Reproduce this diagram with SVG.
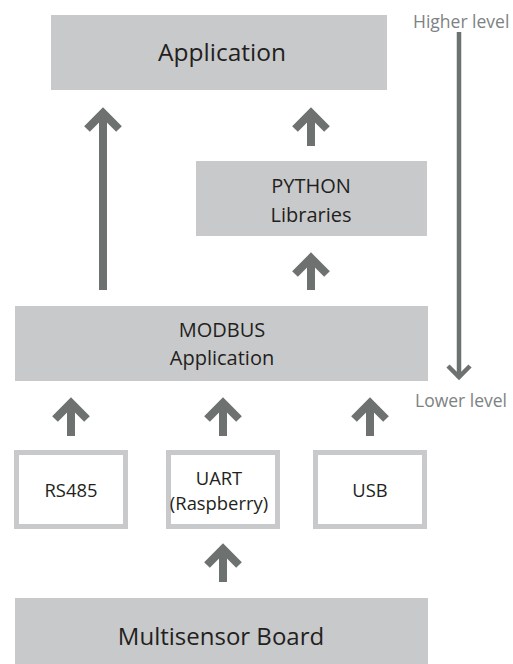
<svg xmlns="http://www.w3.org/2000/svg" width="513" height="664" viewBox="0 0 513 664">
<defs>
<style>
.box{fill:#c8c9cb}
.sbox{fill:#fff;stroke:#c8c9cb;stroke-width:5}
.t{font-family:"Open Sans","Noto Sans",sans-serif;fill:#231f20;text-anchor:middle}
.lvl{font-family:"Open Sans","Noto Sans",sans-serif;fill:#7d8282;font-size:17.5px}
.arr{fill:none;stroke:#6d7271;stroke-width:8;stroke-linejoin:miter}
.lvlline{fill:none;stroke:#6d7271;stroke-width:4.5}
</style>
</defs>
<rect width="513" height="664" fill="#fff"/>
<g id="application">
<rect class="box" x="51" y="15" width="336" height="75"/>
<text class="t" x="222" y="61" font-size="24.5">Application</text>
</g>
<g id="python">
<rect class="box" x="196" y="161" width="231" height="75"/>
<text class="t" x="311" y="193" font-size="20">PYTHON</text>
<text class="t" x="311" y="222" font-size="20">Libraries</text>
</g>
<g id="modbus">
<rect class="box" x="15" y="306" width="413" height="75"/>
<text class="t" x="222" y="337" font-size="20">MODBUS</text>
<text class="t" x="222" y="365" font-size="20">Application</text>
</g>
<g id="rs485">
<rect class="sbox" x="16.5" y="452.5" width="109" height="74"/>
<text class="t" x="71" y="497" font-size="18.4">RS485</text>
</g>
<g id="uart">
<rect class="sbox" x="168.5" y="452.5" width="109" height="74"/>
<text class="t" x="219" y="485" font-size="18.4">UART</text>
<text class="t" x="219" y="510" font-size="18.4">(Raspberry)</text>
</g>
<g id="usb">
<rect class="sbox" x="315.5" y="452.5" width="109" height="74"/>
<text class="t" x="370" y="497" font-size="18.4">USB</text>
</g>
<g id="board">
<rect class="box" x="15" y="598" width="413" height="66"/>
<text class="t" x="221" y="645" font-size="24">Multisensor Board</text>
</g>
<g id="levels">
<text class="lvl" x="413" y="28">Higher level</text>
<text class="lvl" x="415" y="407">Lower level</text>
<line class="lvlline" x1="459" y1="32" x2="459" y2="378"/>
<polyline class="lvlline" points="448,366 459,377 470,366"/>
</g>
<g id="connectors">
<line class="arr" x1="103" y1="114" x2="103" y2="290"/>
<polyline class="arr" points="87,129 103,113 119,129"/>
<line class="arr" x1="311" y1="114" x2="311" y2="146"/>
<polyline class="arr" points="295,129 311,113 327,129"/>
<line class="arr" x1="311" y1="259" x2="311" y2="290"/>
<polyline class="arr" points="295,274 311,258 327,274"/>
<line class="arr" x1="71" y1="404" x2="71" y2="436"/>
<polyline class="arr" points="55,419 71,403 87,419"/>
<line class="arr" x1="223" y1="404" x2="223" y2="436"/>
<polyline class="arr" points="207,419 223,403 239,419"/>
<line class="arr" x1="370" y1="404" x2="370" y2="436"/>
<polyline class="arr" points="354,419 370,403 386,419"/>
<line class="arr" x1="223" y1="550" x2="223" y2="582"/>
<polyline class="arr" points="207,565 223,549 239,565"/>
</g>
</svg>
